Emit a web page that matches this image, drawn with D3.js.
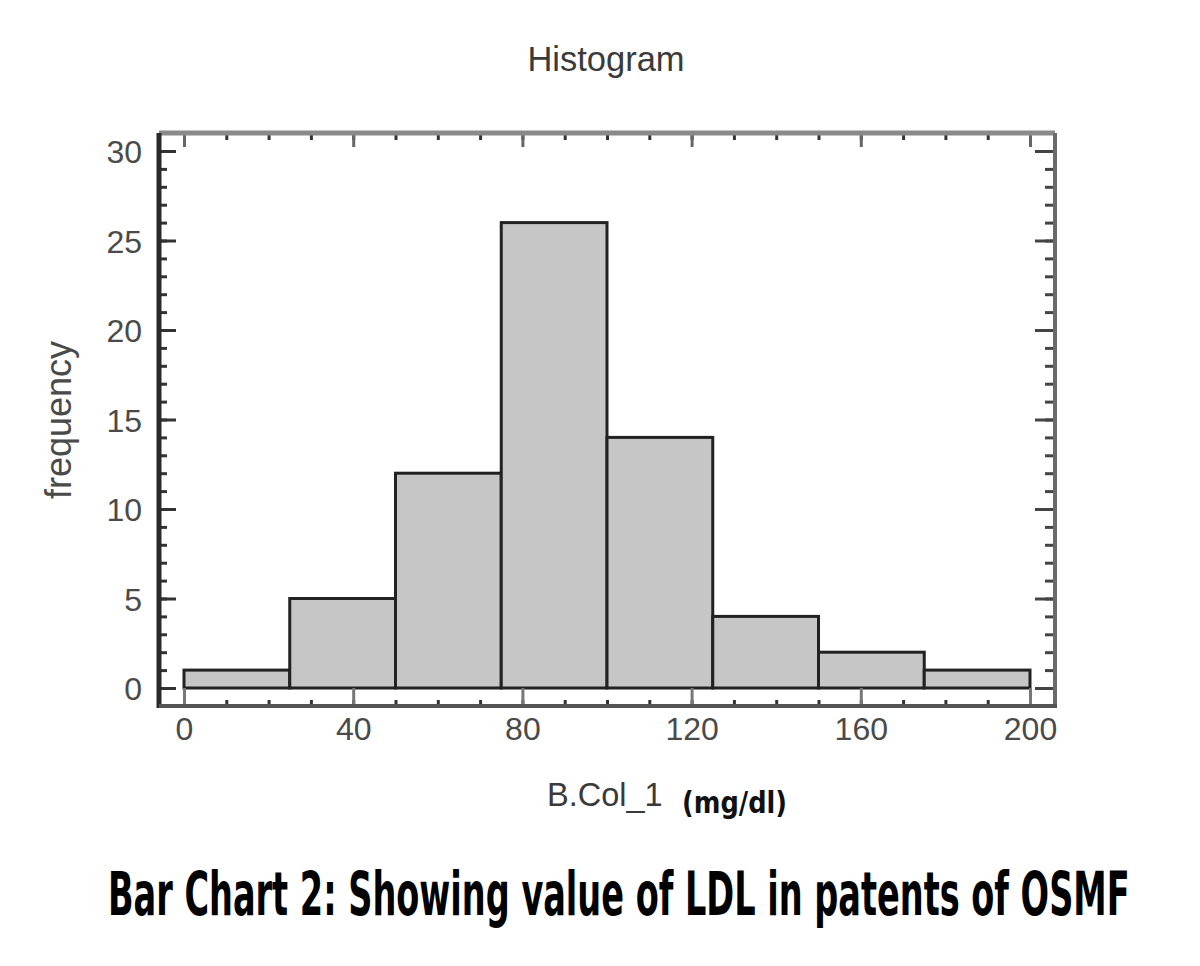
<!DOCTYPE html>
<html>
<head>
<meta charset="utf-8">
<script src="https://cdn.jsdelivr.net/npm/d3@7"></script>
<style>
  body { margin: 0; background: #fff; }
  svg { display: block; }
</style>
</head>
<body>
<svg id="chart"></svg>
<script>
// histogram of LDL values, bins of 25 mg/dl
const binStarts = [0, 25, 50, 75, 100, 125, 150, 175];
const binWidth = 25;
const counts = [1, 5, 12, 26, 14, 4, 2, 1];

const xMajorTicks = [0, 40, 80, 120, 160, 200];
const xMinorTicks = d3.range(0, 201, 10);
const yMajorTicks = [0, 5, 10, 15, 20, 25, 30];
const yMinorTicks = d3.range(0, 31, 1);

const width = 1200, height = 966;

// plot frame
const frame = { left: 159, right: 1055, top: 133, bottom: 706 };

const svg = d3.select("#chart")
    .attr("width", width)
    .attr("height", height);

const xScale = d3.scaleLinear().domain([0, 200]).range([184, 1030]);
const yScale = d3.scaleLinear().domain([0, 30]).range([688, 151]);

const labelFont = "'Liberation Sans', Arial, sans-serif";
const condensedFont = "'DejaVu Sans Condensed', 'DejaVu Sans', sans-serif";

// bars
svg.append("g")
    .selectAll("rect")
    .data(binStarts)
    .enter()
    .append("rect")
        .attr("x", d => xScale(d))
        .attr("y", (d, i) => yScale(counts[i]))
        .attr("width", d => xScale(d + binWidth) - xScale(d))
        .attr("height", (d, i) => yScale(0) - yScale(counts[i]))
        .attr("fill", "#c6c6c6")
        .attr("stroke", "#222")
        .attr("stroke-width", 3);

// helper to strip the domain path and style the ticks
function styleAxis(g, color, w) {
    g.select(".domain").remove();
    g.selectAll(".tick line").attr("stroke", color).attr("stroke-width", w);
}

// squeeze a text horizontally so it spans the given width, starting at x
function fitText(text, x, y, w) {
    const natural = text.node().getComputedTextLength();
    text.attr("x", 0).attr("y", 0)
        .attr("transform", `translate(${x},${y}) scale(${w / natural},1)`);
}

// bottom axis: ticks point up from the frame
svg.append("g")
    .attr("transform", `translate(0,${frame.bottom})`)
    .call(d3.axisBottom(xScale).tickValues(xMinorTicks).tickSize(-6).tickFormat(""))
    .call(g => styleAxis(g, "#333", 3));

const xAxis = svg.append("g")
    .attr("transform", `translate(0,${frame.bottom})`)
    .call(d3.axisBottom(xScale).tickValues(xMajorTicks).tickSize(-18).tickPadding(34))
    .call(g => styleAxis(g, "#777", 3));

xAxis.selectAll(".tick text")
    .attr("font-family", labelFont)
    .attr("font-size", "32px")
    .attr("fill", "#4a4a4a")
    .attr("dy", 0);

// top axis: ticks point down
svg.append("g")
    .attr("transform", `translate(0,${frame.top})`)
    .call(d3.axisTop(xScale).tickValues(xMinorTicks).tickSize(-7).tickFormat(""))
    .call(g => styleAxis(g, "#333", 3));

svg.append("g")
    .attr("transform", `translate(0,${frame.top})`)
    .call(d3.axisTop(xScale).tickValues(xMajorTicks).tickSize(-14).tickFormat(""))
    .call(g => styleAxis(g, "#666", 3));

// left axis
svg.append("g")
    .attr("transform", `translate(${frame.left},0)`)
    .call(d3.axisLeft(yScale).tickValues(yMinorTicks).tickSize(-8).tickFormat(""))
    .call(g => styleAxis(g, "#333", 3));

const yAxis = svg.append("g")
    .attr("transform", `translate(${frame.left},0)`)
    .call(d3.axisLeft(yScale).tickValues(yMajorTicks).tickSize(-17).tickPadding(17))
    .call(g => styleAxis(g, "#333", 3));

yAxis.selectAll(".tick text")
    .attr("font-family", labelFont)
    .attr("font-size", "32px")
    .attr("fill", "#4a4a4a")
    .attr("dy", "0.36em");

// right axis
svg.append("g")
    .attr("transform", `translate(${frame.right},0)`)
    .call(d3.axisRight(yScale).tickValues(yMinorTicks).tickSize(-10).tickFormat(""))
    .call(g => styleAxis(g, "#444", 3));

svg.append("g")
    .attr("transform", `translate(${frame.right},0)`)
    .call(d3.axisRight(yScale).tickValues(yMajorTicks).tickSize(-20).tickFormat(""))
    .call(g => styleAxis(g, "#444", 3));

// frame: left and bottom dark, top and right lighter
const frameG = svg.append("g");
frameG.append("line")
    .attr("x1", frame.left).attr("x2", frame.right)
    .attr("y1", frame.top).attr("y2", frame.top)
    .attr("stroke", "#8a8a8a").attr("stroke-width", 5);
frameG.append("line")
    .attr("x1", frame.right).attr("x2", frame.right)
    .attr("y1", frame.top).attr("y2", frame.bottom)
    .attr("stroke", "#6a6a6a").attr("stroke-width", 4);
frameG.append("line")
    .attr("x1", frame.left).attr("x2", frame.left)
    .attr("y1", frame.top).attr("y2", frame.bottom + 2)
    .attr("stroke", "#2a2a2a").attr("stroke-width", 5);
frameG.append("line")
    .attr("x1", frame.left).attr("x2", frame.right + 2)
    .attr("y1", frame.bottom).attr("y2", frame.bottom)
    .attr("stroke", "#555").attr("stroke-width", 4);

// titles
svg.append("text")
    .attr("x", 606)
    .attr("y", 71)
    .attr("text-anchor", "middle")
    .attr("font-family", labelFont)
    .attr("font-size", "34.5px")
    .attr("fill", "#3a3a3a")
    .text("Histogram");

svg.append("text")
    .attr("transform", "translate(71,420) rotate(-90)")
    .attr("text-anchor", "middle")
    .attr("font-family", labelFont)
    .attr("font-size", "36px")
    .attr("fill", "#4a4a4a")
    .text("frequency");

svg.append("text")
    .attr("x", 547)
    .attr("y", 806)
    .attr("font-family", labelFont)
    .attr("font-size", "32.5px")
    .attr("fill", "#3a3a3a")
    .text("B.Col_1");

const unitLabel = svg.append("text")
    .attr("font-family", condensedFont)
    .attr("font-weight", "bold")
    .attr("font-size", "30px")
    .attr("fill", "#111")
    .text("(mg/dl)");
fitText(unitLabel, 682, 813, 105);

const caption = svg.append("text")
    .attr("font-family", condensedFont)
    .attr("font-weight", "bold")
    .attr("font-size", "60px")
    .attr("fill", "#000")
    .text("Bar Chart 2: Showing value of LDL in patents of OSMF");
fitText(caption, 108, 915, 1022);
</script>
</body>
</html>
